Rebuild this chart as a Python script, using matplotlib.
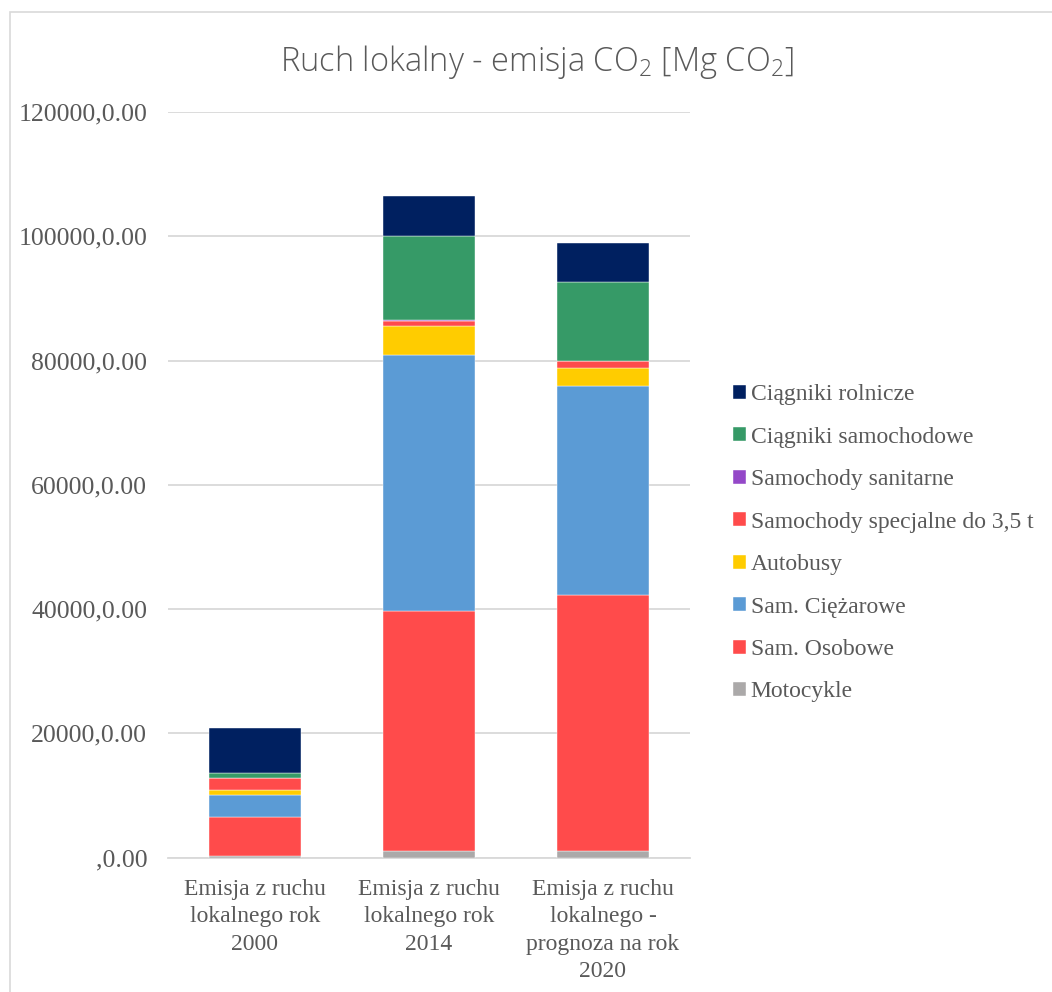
import matplotlib
matplotlib.use("Agg")
import matplotlib.pyplot as plt
import numpy as np
from matplotlib.patches import Rectangle

plt.rcParams['mathtext.fontset'] = 'custom'
plt.rcParams['mathtext.rm'] = 'Open Sans:light'
plt.rcParams['mathtext.it'] = 'Open Sans:light'

categories = ["Emisja z ruchu\nlokalnego rok\n2000",
              "Emisja z ruchu\nlokalnego rok\n2014",
              "Emisja z ruchu\nlokalnego -\nprognoza na rok\n2020"]
series_names = ["Motocykle", "Sam. Osobowe", "Sam. Ciężarowe", "Autobusy",
                "Samochody specjalne do 3,5 t", "Samochody sanitarne",
                "Ciągniki samochodowe", "Ciągniki rolnicze"]
motocykle = [300, 1000, 1000]
osobowe = [6250, 38740, 41320]
ciezarowe = [3430, 41080, 33510]
autobusy = [850, 4780, 3010]
specjalne = [1930, 800, 1020]
sanitarne = [50, 50, 50]
ciagniki_sam = [755, 13600, 12770]
ciagniki_rol = [7355, 6400, 6270]
series_values = [motocykle, osobowe, ciezarowe, autobusy, specjalne,
                 sanitarne, ciagniki_sam, ciagniki_rol]
colors = ["#ABA9A9", "#FF4B4B", "#5B9BD5", "#FFCC00", "#FF4B4B",
          "#9448C8", "#369A67", "#002060"]
yticks = [0, 20000, 40000, 60000, 80000, 100000, 120000]
ytick_labels = [",0.00", "20000,0.00", "40000,0.00", "60000,0.00",
                "80000,0.00", "100000,0.00", "120000,0.00"]

fig = plt.figure(figsize=(10.52, 9.92), dpi=100)
fig.patches.append(Rectangle((10/1052, -0.1), 1.2, (992-12)/992 + 0.1,
                             transform=fig.transFigure, fill=False,
                             edgecolor="#D9D9D9", linewidth=1.2))
ax = fig.add_axes([168/1052, (992-857.5)/992, (690-168)/1052, (857.5-112)/992])

x = np.arange(len(categories))
bottom = np.zeros(len(categories))
handles = []
for name, vals, col in zip(series_names, series_values, colors):
    b = ax.bar(x, vals, width=0.527, bottom=bottom, color=col, label=name,
               edgecolor="#FFFFFF", linewidth=0.3, zorder=3)
    handles.append(b)
    bottom += np.array(vals)

ax.set_xlim(-0.5, 2.5)
ax.set_ylim(0, 120000)
ax.set_yticks(yticks)
ax.set_yticklabels(ytick_labels, family="Liberation Serif", fontsize=18.5, color="#595959")
ax.set_xticks(x)
ax.set_xticklabels(categories, family="Liberation Serif", fontsize=17, color="#595959",
                   linespacing=1.39)
ax.tick_params(axis="y", length=0, pad=15)
ax.tick_params(axis="x", length=0, pad=15.5)
ax.grid(axis="y", color="#D9D9D9", linewidth=1.3, zorder=0)
for s in ["left", "right", "top"]:
    ax.spines[s].set_visible(False)
ax.spines["bottom"].set_color("#D9D9D9")
ax.spines["bottom"].set_linewidth(1.3)

leg = fig.legend(handles[::-1], series_names[::-1], loc="upper left",
                 bbox_to_anchor=(726/1052, (992-377)/992), frameon=False,
                 prop={"family": "Liberation Serif", "size": 17},
                 handlelength=0.55, handleheight=0.55, handletextpad=0.2,
                 labelspacing=0.91, borderaxespad=0, borderpad=0.3)
for t in leg.get_texts():
    t.set_color("#595959")

fig.text(537/1052, (992-62)/992, r"Ruch lokalny - emisja CO$_2$ [Mg CO$_2$]",
         ha="center", va="center", fontsize=23.5, color="#595959",
         family="Open Sans", fontweight="light")

fig.savefig("out.png", dpi=100)
